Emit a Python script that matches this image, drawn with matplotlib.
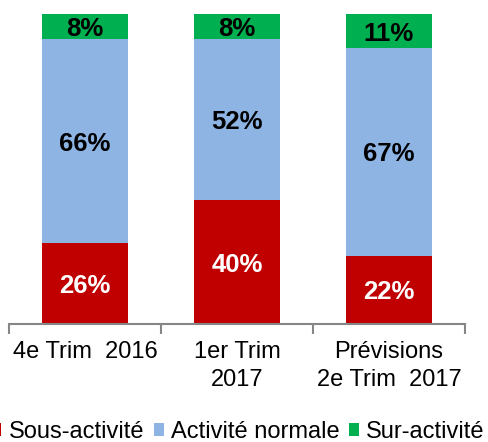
import matplotlib
matplotlib.use("Agg")
import matplotlib.pyplot as plt
from matplotlib.patches import Patch
import numpy as np

plt.rcParams['font.family'] = ['Liberation Sans', 'DejaVu Sans']

categories = ["4e Trim  2016", "1er Trim\n2017", "Prévisions\n2e Trim  2017"]
sous = [26, 40, 22]
normale = [66, 52, 67]
sur = [8, 8, 11]
series_names = ["Sous-activité", "Activité normale", "Sur-activité"]
colors = ["#C00000", "#8EB4E3", "#00B050"]
label_colors = ["white", "black", "black"]

fig = plt.figure(figsize=(4.89, 4.42), dpi=100)
ax = fig.add_axes([9/489, 1-324/442, (465-9)/489, (324-14)/442])

x = np.arange(len(categories))
bottom = np.zeros(len(categories))
for vals, col, lc in zip([sous, normale, sur], colors, label_colors):
    vals = np.array(vals, dtype=float)
    ax.bar(x, vals, width=0.56, bottom=bottom, color=col, edgecolor='none')
    for xi, b, v in zip(x, bottom, vals):
        ax.text(xi, b + v/2, f"{int(v)}%", ha='center', va='center_baseline',
                fontsize=18.5, fontweight='bold', color=lc)
    bottom += vals

ax.set_xlim(-0.5, 2.5)
ax.set_ylim(0, 100)
for s in ['top', 'right', 'left']:
    ax.spines[s].set_visible(False)
ax.spines['bottom'].set_color('#868686')
ax.spines['bottom'].set_linewidth(1.5)
ax.set_yticks([])
ax.set_xticks(x)
ax.set_xticklabels(categories, fontsize=17, linespacing=1.35)
ax.tick_params(axis='x', which='major', length=0, pad=12)
ax.set_xticks([-0.5, 0.5, 1.5, 2.5], minor=True)
ax.tick_params(axis='x', which='minor', length=7, width=1.5, color='#868686')

handles = [Patch(facecolor=c, edgecolor='none') for c in colors]
fig.legend(handles, series_names, loc='center', bbox_to_anchor=(0.487, 1-432/442),
           ncol=3, frameon=False, fontsize=17, handlelength=0.42, handleheight=0.42,
           handletextpad=0.3, columnspacing=0.42, borderpad=0)

fig.savefig("out.png", dpi=100)
